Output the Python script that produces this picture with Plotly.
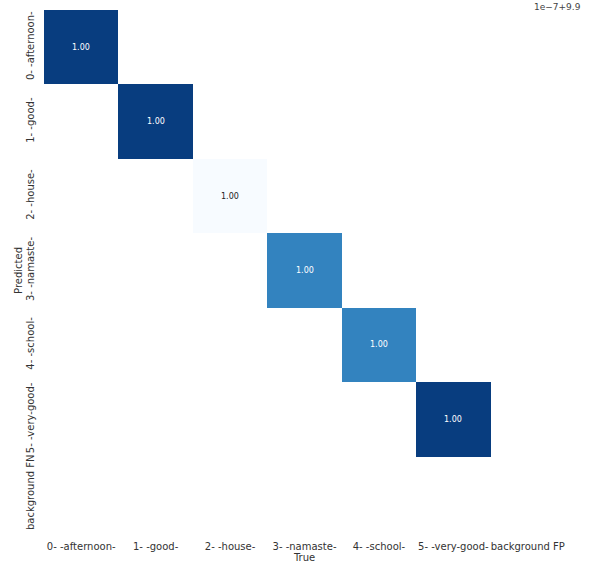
import numpy as np
import plotly.graph_objects as go
from plotly.colors import sequential

# ---- data ----
classes = ["0- -afternoon-", "1- -good-", "2- -house-", "3- -namaste-",
           "4- -school-", "5- -very-good-"]
x_labels = classes + ["background FP"]
y_labels = classes + ["background FN"]
# displayed diagonal values (normalised confusion)
diag_values = [1.00, 1.00, 1.00, 1.00, 1.00, 1.00]
# relative colour level of each diagonal cell (tiny float differences amplified by colour scale)
diag_shade = [0.95, 0.95, 0.0, 0.68, 0.68, 0.95]
offset_text = "1e\u22127+9.9"

n = len(x_labels)
z = np.full((n, n), np.nan)
txt = np.full((n, n), "", dtype=object)
for i, (v, s) in enumerate(zip(diag_values, diag_shade)):
    z[i, i] = s
    txt[i, i] = f"{v:.2f}"

fig = go.Figure(go.Heatmap(
    z=z, x=x_labels, y=y_labels,
    colorscale=sequential.Blues, zmin=0, zmax=1,
    showscale=False, hoverinfo="skip",
))

for i, s in enumerate(diag_shade):
    fig.add_annotation(
        x=x_labels[i], y=y_labels[i], text=txt[i, i], showarrow=False,
        font=dict(family="DejaVu Sans", size=8,
                  color="white" if s > 0.5 else "#222222"),
    )

fig.add_annotation(
    xref="paper", yref="paper", x=1.035, y=1 + 10 / 521,
    xanchor="right", yanchor="top",
    text=offset_text, showarrow=False,
    font=dict(family="DejaVu Sans", size=9, color="#444444"),
)

fig.update_layout(
    width=590, height=565,
    margin=dict(l=44, r=25, t=10, b=34),
    paper_bgcolor="white", plot_bgcolor="white",
    font=dict(family="DejaVu Sans", size=10, color="#333333"),
)
fig.update_xaxes(
    showgrid=False, zeroline=False, showline=False, ticks="", automargin=False,
    tickfont=dict(size=10), tickangle=0, ticklabelstandoff=8,
    title=dict(text="True", font=dict(size=10), standoff=0),
)
fig.update_yaxes(
    autorange="reversed", showgrid=False, zeroline=False, showline=False,
    ticks="", tickangle=-90, tickfont=dict(size=10), ticklabelstandoff=7,
    automargin=False,
    title=dict(text="Predicted", font=dict(size=10), standoff=0),
)

fig.write_html("out.html")
